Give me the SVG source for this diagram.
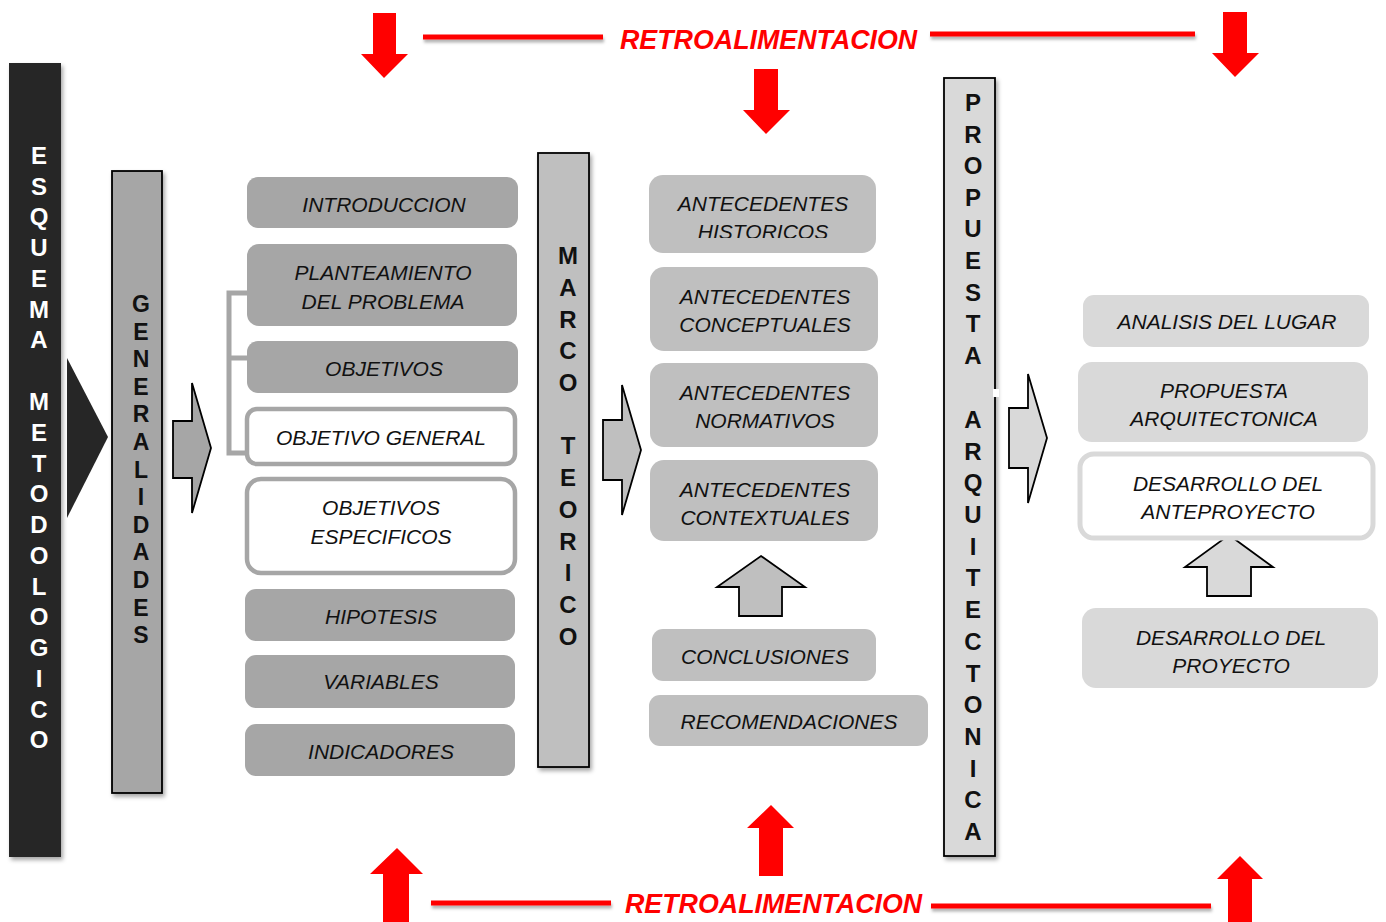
<svg xmlns="http://www.w3.org/2000/svg" width="1386" height="922" viewBox="0 0 1386 922">
<defs>
<filter id="sh" x="-20%" y="-20%" width="140%" height="140%"><feDropShadow dx="2" dy="3" stdDeviation="2" flood-color="#000" flood-opacity="0.35"/></filter>
<filter id="shl" x="-5%" y="-100%" width="110%" height="400%"><feDropShadow dx="1" dy="3" stdDeviation="1.5" flood-color="#000" flood-opacity="0.3"/></filter>
<clipPath id="clipHist"><rect x="649" y="175" width="228" height="63"/></clipPath>
<style>
.bx{font-family:"Liberation Sans",Arial,sans-serif;font-style:italic;font-size:21px;fill:#111;text-anchor:middle}
.vl{font-family:"Liberation Sans",Arial,sans-serif;font-weight:bold;font-size:24px;text-anchor:middle;fill:#111}
.red{font-family:"Liberation Sans",Arial,sans-serif;font-weight:bold;font-style:italic;font-size:26.8px;fill:#ff0000}
.g1{fill:#a6a6a6}.g2{fill:#bfbfbf}.g3{fill:#d9d9d9}
.blk{stroke:#000;stroke-width:1.8}
.rl{stroke:#ff0000;stroke-width:5;fill:none}
</style>
</defs>
<rect width="1386" height="922" fill="#fff"/>

<g id="feedback">
<g filter="url(#shl)">
<line class="rl" x1="423" y1="37" x2="603" y2="37"/>
<line class="rl" x1="930" y1="34" x2="1195" y2="34"/>
<line class="rl" x1="431" y1="903" x2="611" y2="903"/>
<line class="rl" x1="931" y1="906" x2="1211" y2="906"/>
</g>
<text class="red" x="620" y="49">RETROALIMENTACION</text>
<text class="red" x="625" y="913">RETROALIMENTACION</text>
<g fill="#ff0000">
<polygon points="373,13 396,13 396,54 408,54 384,78 361,54 373,54"/>
<polygon points="754,69 778,69 778,110 790,110 766,134 743,110 754,110"/>
<polygon points="1223,12 1247,12 1247,53 1259,53 1235,77 1212,53 1223,53"/>
<polygon points="397,848 423,874 409,874 409,922 383,922 383,874 370,874"/>
<polygon points="771,805 794,828 783,828 783,876 759,876 759,828 747,828"/>
<polygon points="1240,856 1263,879 1252,879 1252,922 1228,922 1228,879 1217,879"/>
</g>
</g>

<g id="connectors">
<polygon points="67,358 108,437 67,518" fill="#262626"/>
<polygon class="g1 blk" points="173,421 192,421 192,383 211,448 192,513 192,478 173,478"/>
<polygon class="g2 blk" points="603,420 622,420 622,385 641,450 622,515 622,480 603,480"/>
<polygon class="g3 blk" points="1009,408 1028,408 1028,374 1047,438 1028,503 1028,468 1009,468"/>
<polygon class="g2 blk" points="761,556 805,587 782,587 782,616 739,616 739,587 717,587"/>
<polygon class="g3 blk" points="1229,535 1273,567 1251,567 1251,596 1207,596 1207,567 1185,567"/>
<path d="M247,293 H229 V453 H247 M229,358 H247" fill="none" stroke="#a6a6a6" stroke-width="5"/>
</g>

<g id="esquema">
<rect x="9" y="63" width="52" height="794" fill="#262626" filter="url(#sh)"/>
<text class="vl" style="fill:#fff" font-size="24">
<tspan x="39" y="164">E</tspan><tspan x="39" y="194.5">S</tspan><tspan x="39" y="225">Q</tspan><tspan x="39" y="256">U</tspan><tspan x="39" y="287">E</tspan><tspan x="39" y="317.5">M</tspan><tspan x="39" y="348">A</tspan><tspan x="39" y="410">M</tspan><tspan x="39" y="441">E</tspan><tspan x="39" y="471.5">T</tspan><tspan x="39" y="502">O</tspan><tspan x="39" y="533">D</tspan><tspan x="39" y="564">O</tspan><tspan x="39" y="594.5">L</tspan><tspan x="39" y="625">O</tspan><tspan x="39" y="656">G</tspan><tspan x="39" y="687">I</tspan><tspan x="39" y="717.5">C</tspan><tspan x="39" y="748">O</tspan>
</text>
</g>

<g id="generalidades">
<rect x="112" y="171" width="50" height="622" class="g1 blk" filter="url(#sh)"/>
<text class="vl" style="font-size:23px">
<tspan x="141" y="312">G</tspan><tspan x="141" y="339.6">E</tspan><tspan x="141" y="367.2">N</tspan><tspan x="141" y="394.8">E</tspan><tspan x="141" y="422.4">R</tspan><tspan x="141" y="450">A</tspan><tspan x="141" y="477.6">L</tspan><tspan x="141" y="505.2">I</tspan><tspan x="141" y="532.8">D</tspan><tspan x="141" y="560.4">A</tspan><tspan x="141" y="588">D</tspan><tspan x="141" y="615.6">E</tspan><tspan x="141" y="643.2">S</tspan>
</text>
</g>

<g id="introduccion"><rect x="247" y="177" width="271" height="51" rx="11" class="g1"/><text class="bx" x="384" y="212">INTRODUCCION</text></g>
<g id="planteamiento"><rect x="247" y="244" width="270" height="82" rx="12" class="g1"/><text class="bx" x="383" y="280">PLANTEAMIENTO</text><text class="bx" x="383" y="309">DEL PROBLEMA</text></g>
<g id="objetivos"><rect x="247" y="341" width="271" height="52" rx="11" class="g1"/><text class="bx" x="384" y="376">OBJETIVOS</text></g>
<g id="objetivo-general"><rect x="247" y="409" width="268" height="55" rx="10" fill="#fff" stroke="#a6a6a6" stroke-width="4.5"/><text class="bx" x="381" y="445">OBJETIVO GENERAL</text></g>
<g id="objetivos-especificos"><rect x="247" y="479" width="268" height="94" rx="14" fill="#fff" stroke="#a6a6a6" stroke-width="4.5"/><text class="bx" x="381" y="515">OBJETIVOS</text><text class="bx" x="381" y="544">ESPECIFICOS</text></g>
<g id="hipotesis"><rect x="245" y="589" width="270" height="52" rx="11" class="g1"/><text class="bx" x="381" y="624">HIPOTESIS</text></g>
<g id="variables"><rect x="245" y="655" width="270" height="53" rx="11" class="g1"/><text class="bx" x="381" y="689">VARIABLES</text></g>
<g id="indicadores"><rect x="245" y="724" width="270" height="52" rx="11" class="g1"/><text class="bx" x="381" y="759">INDICADORES</text></g>

<g id="marco-teorico">
<rect x="538" y="153" width="51" height="614" class="g2 blk" filter="url(#sh)"/>
<text class="vl">
<tspan x="568" y="264">M</tspan><tspan x="568" y="296">A</tspan><tspan x="568" y="327.5">R</tspan><tspan x="568" y="359">C</tspan><tspan x="568" y="391">O</tspan><tspan x="568" y="454">T</tspan><tspan x="568" y="486">E</tspan><tspan x="568" y="518">O</tspan><tspan x="568" y="549.5">R</tspan><tspan x="568" y="581">I</tspan><tspan x="568" y="613">C</tspan><tspan x="568" y="645">O</tspan>
</text>
</g>

<g id="ant-historicos"><rect x="649" y="175" width="227" height="78" rx="14" class="g2"/><g clip-path="url(#clipHist)"><text class="bx" x="763" y="211">ANTECEDENTES</text><text class="bx" x="763" y="239">HISTORICOS</text></g></g>
<g id="ant-conceptuales"><rect x="650" y="267" width="228" height="84" rx="14" class="g2"/><text class="bx" x="765" y="304">ANTECEDENTES</text><text class="bx" x="765" y="332">CONCEPTUALES</text></g>
<g id="ant-normativos"><rect x="650" y="363" width="228" height="84" rx="14" class="g2"/><text class="bx" x="765" y="400">ANTECEDENTES</text><text class="bx" x="765" y="428">NORMATIVOS</text></g>
<g id="ant-contextuales"><rect x="650" y="460" width="228" height="81" rx="14" class="g2"/><text class="bx" x="765" y="497">ANTECEDENTES</text><text class="bx" x="765" y="525">CONTEXTUALES</text></g>
<g id="conclusiones"><rect x="652" y="629" width="224" height="52" rx="11" class="g2"/><text class="bx" x="765" y="664">CONCLUSIONES</text></g>
<g id="recomendaciones"><rect x="649" y="695" width="279" height="51" rx="11" class="g2"/><text class="bx" x="789" y="729">RECOMENDACIONES</text></g>

<g id="propuesta-arquitectonica">
<rect x="944" y="78" width="51" height="778" class="g3 blk" filter="url(#sh)"/>
<rect x="993" y="389" width="6" height="8" fill="#fff"/>
<text class="vl">
<tspan x="973" y="111">P</tspan><tspan x="973" y="143">R</tspan><tspan x="973" y="174">O</tspan><tspan x="973" y="206">P</tspan><tspan x="973" y="237">U</tspan><tspan x="973" y="269">E</tspan><tspan x="973" y="301">S</tspan><tspan x="973" y="332">T</tspan><tspan x="973" y="364">A</tspan><tspan x="973" y="428">A</tspan><tspan x="973" y="459.5">R</tspan><tspan x="973" y="491">Q</tspan><tspan x="973" y="523">U</tspan><tspan x="973" y="554.5">I</tspan><tspan x="973" y="586">T</tspan><tspan x="973" y="618">E</tspan><tspan x="973" y="650">C</tspan><tspan x="973" y="681.5">T</tspan><tspan x="973" y="713">O</tspan><tspan x="973" y="745">N</tspan><tspan x="973" y="776.5">I</tspan><tspan x="973" y="808">C</tspan><tspan x="973" y="840">A</tspan>
</text>
</g>

<g id="analisis-lugar"><rect x="1083" y="295" width="286" height="52" rx="11" class="g3"/><text class="bx" x="1227" y="329">ANALISIS DEL LUGAR</text></g>
<g id="propuesta-box"><rect x="1078" y="362" width="290" height="80" rx="14" class="g3"/><text class="bx" x="1224" y="398">PROPUESTA</text><text class="bx" x="1224" y="426">ARQUITECTONICA</text></g>
<g id="anteproyecto"><rect x="1080" y="454" width="293" height="84" rx="14" fill="#fff" stroke="#d9d9d9" stroke-width="5"/><text class="bx" x="1228" y="491">DESARROLLO DEL</text><text class="bx" x="1228" y="519">ANTEPROYECTO</text></g>
<g id="desarrollo-proyecto"><rect x="1082" y="608" width="296" height="80" rx="14" class="g3"/><text class="bx" x="1231" y="645">DESARROLLO DEL</text><text class="bx" x="1231" y="673">PROYECTO</text></g>
</svg>
